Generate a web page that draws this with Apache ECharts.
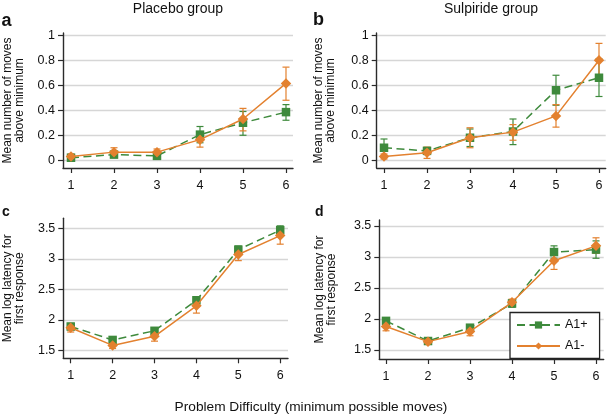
<!DOCTYPE html>
<html><head><meta charset="utf-8">
<script src="https://cdn.jsdelivr.net/npm/echarts@6/dist/echarts.min.js"></script>
<style>html,body{margin:0;padding:0;background:#fff}#c{width:609px;height:417px}</style>
</head><body><div id="c"></div>
<script>
// ---- data ----
const moves = [1, 2, 3, 4, 5, 6];
const xTicks = [1, 2, 3, 4, 5, 6];
const movesTicks = [0, 0.2, 0.4, 0.6, 0.8, 1];
const latencyTicks = [1.5, 2, 2.5, 3, 3.5];
const seriesNames = ['A1+', 'A1-'];
const panelTitles = ['Placebo group', 'Sulpiride group'];
const panelLetters = ['a', 'b', 'c', 'd'];
const movesTitle = 'Mean number of moves\nabove minimum';
const latencyTitle = 'Mean log latency for\nfirst response';
const xTitle = 'Problem Difficulty (minimum possible moves)';

// a: Placebo, moves above minimum
const placeboMovesPlus   = [0.02, 0.045, 0.035, 0.205, 0.30, 0.385];
const placeboMovesPlusLo = [0.005, 0.03, 0.01, 0.14, 0.20, 0.32];
const placeboMovesPlusHi = [0.035, 0.06, 0.06, 0.27, 0.39, 0.445];
const placeboMovesMinus   = [0.03, 0.065, 0.065, 0.165, 0.33, 0.615];
const placeboMovesMinusLo = [0.01, 0.035, 0.04, 0.105, 0.235, 0.48];
const placeboMovesMinusHi = [0.05, 0.10, 0.09, 0.22, 0.415, 0.745];
// b: Sulpiride, moves above minimum
const sulpMovesPlus   = [0.10, 0.075, 0.18, 0.23, 0.56, 0.66];
const sulpMovesPlusLo = [0.03, 0.06, 0.11, 0.125, 0.44, 0.51];
const sulpMovesPlusHi = [0.17, 0.09, 0.25, 0.33, 0.68, 0.81];
const sulpMovesMinus   = [0.03, 0.06, 0.18, 0.225, 0.355, 0.80];
const sulpMovesMinusLo = [0.01, 0.015, 0.10, 0.16, 0.265, 0.665];
const sulpMovesMinusHi = [0.05, 0.105, 0.26, 0.285, 0.445, 0.935];
// c: Placebo, log latency
const placeboLatPlus   = [1.89, 1.67, 1.82, 2.32, 3.15, 3.47];
const placeboLatPlusLo = [1.84, 1.63, 1.77, 2.26, 3.09, 3.40];
const placeboLatPlusHi = [1.94, 1.71, 1.87, 2.38, 3.21, 3.54];
const placeboLatMinus   = [1.87, 1.58, 1.73, 2.23, 3.07, 3.38];
const placeboLatMinusLo = [1.80, 1.53, 1.65, 2.11, 2.97, 3.24];
const placeboLatMinusHi = [1.94, 1.63, 1.81, 2.35, 3.17, 3.52];
// d: Sulpiride, log latency
const sulpLatPlus   = [1.97, 1.645, 1.86, 2.25, 3.08, 3.12];
const sulpLatPlusLo = [1.92, 1.61, 1.82, 2.19, 2.98, 2.98];
const sulpLatPlusHi = [2.02, 1.68, 1.90, 2.31, 3.18, 3.26];
const sulpLatMinus   = [1.88, 1.635, 1.80, 2.27, 2.94, 3.18];
const sulpLatMinusLo = [1.81, 1.60, 1.73, 2.22, 2.80, 3.06];
const sulpLatMinusHi = [1.95, 1.67, 1.87, 2.32, 3.09, 3.31];

// ---- styling / layout ----
const GREEN = '#3e8a3c';
const ORANGE = '#e3812f';
const AXIS = '#2b2b2b';
const GRIDC = '#d6d6d6';
const FONT = 'Liberation Sans, Arial, sans-serif';

const grids = [
  {left: 63, top: 33, width: 230, height: 135},
  {left: 376.7, top: 33, width: 229, height: 135},
  {left: 63.3, top: 218.3, width: 224.7, height: 140},
  {left: 379.3, top: 220, width: 224.4, height: 139}
];
const xRanges = [[0.814, 6.163], [0.830, 6.156], [0.823, 6.186], [0.840, 6.183]];
const yRanges = [[-0.062, 1.018], [-0.062, 1.018], [1.369, 3.664], [1.355, 3.597]];
const yTickSets = [movesTicks, movesTicks, latencyTicks, latencyTicks];
const yNames = [movesTitle, movesTitle, latencyTitle, latencyTitle];
const yNameGaps = [37, 40, 38, 42];

const panels = [
  [placeboMovesPlus, placeboMovesPlusLo, placeboMovesPlusHi, placeboMovesMinus, placeboMovesMinusLo, placeboMovesMinusHi],
  [sulpMovesPlus, sulpMovesPlusLo, sulpMovesPlusHi, sulpMovesMinus, sulpMovesMinusLo, sulpMovesMinusHi],
  [placeboLatPlus, placeboLatPlusLo, placeboLatPlusHi, placeboLatMinus, placeboLatMinusLo, placeboLatMinusHi],
  [sulpLatPlus, sulpLatPlusLo, sulpLatPlusHi, sulpLatMinus, sulpLatMinusLo, sulpLatMinusHi]
];

const pts = ys => moves.map((x, i) => [x, ys[i]]);
const bars = (lo, hi) => moves.map((x, i) => [x, lo[i], hi[i]]);

function errorSeries(idx, lo, hi, color) {
  return {
    type: 'custom', xAxisIndex: idx, yAxisIndex: idx, silent: true, z: 2,
    encode: {x: 0, y: [1, 2]},
    data: bars(lo, hi),
    renderItem: function (params, api) {
      const x = api.value(0);
      const p1 = api.coord([x, api.value(1)]);
      const p2 = api.coord([x, api.value(2)]);
      const w = 3.5;
      const st = {stroke: color, lineWidth: 1.2};
      return {type: 'group', children: [
        {type: 'line', shape: {x1: p1[0], y1: p1[1], x2: p2[0], y2: p2[1]}, style: st},
        {type: 'line', shape: {x1: p1[0] - w, y1: p1[1], x2: p1[0] + w, y2: p1[1]}, style: st},
        {type: 'line', shape: {x1: p2[0] - w, y1: p2[1], x2: p2[0] + w, y2: p2[1]}, style: st}
      ]};
    }
  };
}

const series = [];
panels.forEach((p, idx) => {
  series.push(errorSeries(idx, p[1], p[2], GREEN));
  series.push({
    name: seriesNames[0], type: 'line', xAxisIndex: idx, yAxisIndex: idx, z: 3,
    data: pts(p[0]), symbol: 'rect', symbolSize: 8.5, showAllSymbol: true,
    itemStyle: {color: GREEN},
    lineStyle: {color: GREEN, width: 1.5, type: [8, 4.5]}
  });
  series.push(errorSeries(idx, p[4], p[5], ORANGE));
  series.push({
    name: seriesNames[1], type: 'line', xAxisIndex: idx, yAxisIndex: idx, z: 4,
    data: pts(p[3]), symbol: 'diamond', symbolSize: 10.5, showAllSymbol: true,
    itemStyle: {color: ORANGE},
    lineStyle: {color: ORANGE, width: 1.5}
  });
});

const xAxes = grids.map((g, i) => ({
  type: 'value', gridIndex: i, min: xRanges[i][0], max: xRanges[i][1],
  axisLine: {show: true, onZero: false, lineStyle: {color: AXIS, width: 1.4}},
  axisTick: {show: true, customValues: xTicks, length: 5, lineStyle: {color: AXIS, width: 1.2}},
  axisLabel: {customValues: xTicks, margin: 11, fontSize: 12.5, color: '#111', fontFamily: FONT},
  splitLine: {show: false}
}));
const yAxes = grids.map((g, i) => ({
  type: 'value', gridIndex: i, min: yRanges[i][0], max: yRanges[i][1],
  name: yNames[i], nameLocation: 'middle', nameGap: yNameGaps[i],
  nameTextStyle: {fontSize: 12, lineHeight: 12, color: '#111', fontFamily: FONT},
  axisLine: {show: true, onZero: false, lineStyle: {color: AXIS, width: 1.4}},
  axisTick: {show: true, customValues: yTickSets[i], length: 5, lineStyle: {color: AXIS, width: 1.2}},
  axisLabel: {customValues: yTickSets[i], margin: 8, fontSize: 12.5, color: '#111', fontFamily: FONT},
  splitLine: {show: true, lineStyle: {color: GRIDC, width: 1.3}}
}));

const txt = (x, y, text, size, weight, align) => ({
  type: 'text', x: x, y: y, silent: true,
  style: {text: text, fontSize: size, fontWeight: weight || 'normal', fontFamily: FONT,
          fill: '#111', align: align || 'center', verticalAlign: 'middle'}
});

const chart = echarts.init(document.getElementById('c'), null, {renderer: 'canvas'});
chart.setOption({
  animation: false,
  backgroundColor: '#fff',
  grid: grids,
  xAxis: xAxes,
  yAxis: yAxes,
  legend: {
    data: seriesNames, orient: 'vertical', left: 510, top: 312.5,
    padding: [6, 12, 6, 6], itemWidth: 43, itemHeight: 9, itemGap: 8,
    borderColor: '#222', borderWidth: 1.3, backgroundColor: '#fff',
    textStyle: {fontSize: 12.5, color: '#111', fontFamily: FONT}
  },
  graphic: [
    txt(178, 9.5, panelTitles[0], 14),
    txt(491, 9.5, panelTitles[1], 14),
    txt(1.5, 21, panelLetters[0], 18, 'bold', 'left'),
    txt(313, 20, panelLetters[1], 18, 'bold', 'left'),
    txt(2, 212, panelLetters[2], 14, 'bold', 'left'),
    txt(315, 212, panelLetters[3], 14, 'bold', 'left'),
    txt(311, 407.5, xTitle, 13.7)
  ],
  series: series
});
</script>
</body></html>
